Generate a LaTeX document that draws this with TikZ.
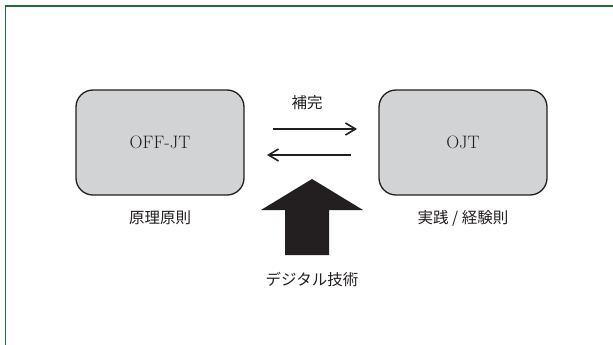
\documentclass[tikz,border=0pt]{standalone}
\usepackage{fontspec}
\newfontfamily\jp{Noto Sans CJK JP}
\usetikzlibrary{arrows.meta}
\definecolor{frameg}{HTML}{1F6E3C}
\definecolor{ink}{HTML}{231F20}
\definecolor{boxg}{HTML}{D1D3D4}
\begin{document}
\begin{tikzpicture}[x=1pt,y=-1pt,
  box/.style={draw=ink,line width=1.3pt,fill=boxg,rounded corners=17pt,minimum width=168pt,minimum height=105pt,inner sep=0pt,font=\fontsize{18}{20}\selectfont,text=ink},
  lab/.style={font=\jp\fontsize{15.5}{18}\selectfont,text=ink,inner sep=0pt},
  thin/.style={line width=2.6pt,draw=ink,-{Straight Barb[length=10pt,width=12pt,line width=1.6pt]}}]
\useasboundingbox (0,0) rectangle (613,345);
\fill[white] (0,0) rectangle (613,345);
\draw[frameg,line width=1.6pt] (5.5,345) -- (5.5,6) -- (613,6);
\node[box] (off) at (160,142.5) {OFF-JT};
\node[box] (ojt) at (463,142.5) {OJT};
\node[lab] (l1) at (160,218) {原理原則};
\node[lab] (l2) at (463,218) {実践 / 経験則};
\node[lab] (hk) at (307,103) {補完};
\node[lab] (dg) at (312,280) {デジタル技術};
\coordinate (a1) at (273,129);
\coordinate (a2) at (357,129);
\coordinate (b1) at (351,155);
\coordinate (b2) at (267,155);
\draw[thin] (a1) -- (a2);
\draw[thin] (b1) -- (b2);
\fill[ink] (312,179) -- (363,210) -- (329,210) -- (329,255) -- (285,255) -- (285,210) -- (261,210) -- cycle;
\end{tikzpicture}
\end{document}
